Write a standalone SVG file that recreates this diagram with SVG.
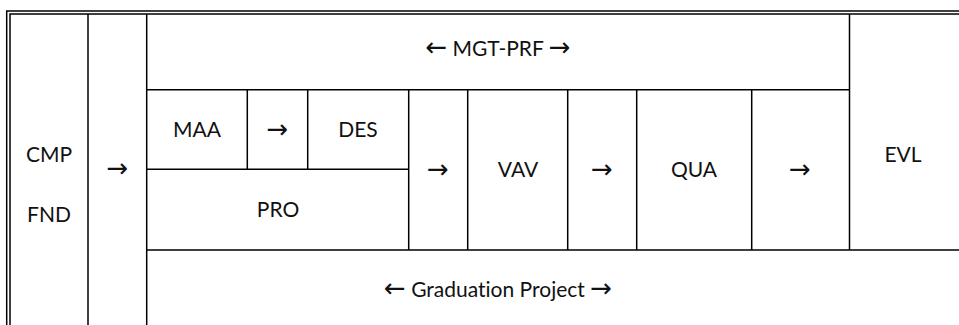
<svg xmlns="http://www.w3.org/2000/svg" width="959" height="325" viewBox="0 0 959 325">
<style>
.ln{stroke:#000;stroke-width:1.5;fill:none}
.t{font-family:Lato,"Open Sans","Liberation Sans",sans-serif;font-size:21px;fill:#111;text-anchor:middle;font-variant-ligatures:none}
.a{font-family:"DejaVu Sans",sans-serif;font-size:26px;fill:#111}
</style>
<rect width="959" height="325" fill="#fff"/>
<g id="grid">
<path class="ln" d="M6.7 325V11H959M10 325V14H959"/>
<path class="ln" d="M88 14V325M146.7 14V325M849.5 14V250M146.7 89.7H849.5M146.7 250H959"/>
<path class="ln" d="M247.3 89.7V169.3M307.7 89.7V169.3M146.7 169.3H408.7M408.7 89.7V250M467.7 89.7V250M567.7 89.7V250M636.7 89.7V250M751.7 89.7V250"/>
</g>
<g id="cmp"><text class="t" x="49" y="162">CMP</text></g>
<g id="fnd"><text class="t" x="49" y="222">FND</text></g>
<g id="arrow1"><text class="t a" x="117.5" y="177">→</text></g>
<g id="mgt-prf"><text class="t" x="498" y="56"><tspan class="a">←</tspan> MGT-PRF <tspan class="a">→</tspan></text></g>
<g id="maa"><text class="t" x="197" y="137">MAA</text></g>
<g id="arrow2"><text class="t a" x="277.5" y="138">→</text></g>
<g id="des"><text class="t" x="358" y="137">DES</text></g>
<g id="pro"><text class="t" x="278" y="217">PRO</text></g>
<g id="arrow3"><text class="t a" x="438" y="178">→</text></g>
<g id="vav"><text class="t" x="518" y="177">VAV</text></g>
<g id="arrow4"><text class="t a" x="602" y="178">→</text></g>
<g id="qua"><text class="t" x="694" y="177">QUA</text></g>
<g id="arrow5"><text class="t a" x="800" y="178">→</text></g>
<g id="evl"><text class="t" x="903" y="162">EVL</text></g>
<g id="grad"><text class="t" x="498" y="297"><tspan class="a">←</tspan> Graduation Project <tspan class="a">→</tspan></text></g>
</svg>
